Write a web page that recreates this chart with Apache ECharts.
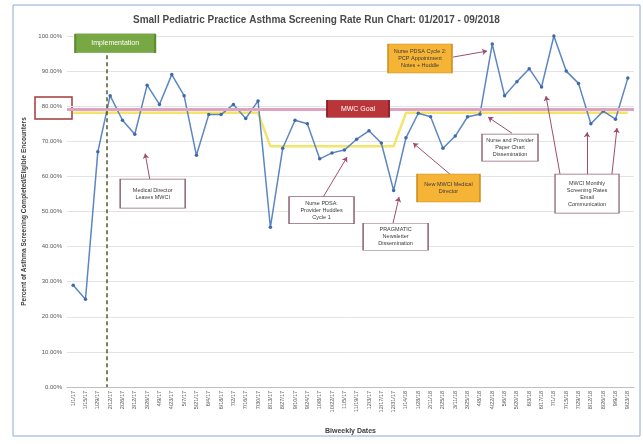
<!DOCTYPE html>
<html>
<head>
<meta charset="utf-8">
<script src="https://cdn.jsdelivr.net/npm/echarts@6/dist/echarts.min.js"></script>
<style>
  html, body { margin: 0; padding: 0; background: #fff; }
  #chart { width: 643px; height: 444px; }
</style>
</head>
<body>
<div id="chart"></div>
<script>
// biweekly dates (x categories)
var dates = [
  "1/1/17", "1/15/17", "1/29/17", "2/12/17", "2/26/17", "3/12/17", "3/26/17", "4/9/17",
  "4/23/17", "5/7/17", "5/21/17", "6/4/17", "6/18/17", "7/2/17", "7/16/17", "7/30/17",
  "8/13/17", "8/27/17", "9/10/17", "9/24/17", "10/8/17", "10/22/17", "11/5/17", "11/19/17",
  "12/3/17", "12/17/17", "12/31/17", "1/14/18", "1/28/18", "2/11/18", "2/25/18", "3/11/18",
  "3/25/18", "4/8/18", "4/22/18", "5/6/18", "5/20/18", "6/3/18", "6/17/18", "7/1/18",
  "7/15/18", "7/29/18", "8/12/18", "8/26/18", "9/9/18", "9/23/18"
];
// screening rate (%)
var screeningRate = [
  29, 25, 67, 83, 76, 72, 86, 80.5, 89, 83, 66, 77.6, 77.6, 80.5, 76.5, 81.5,
  45.5, 68, 76, 75, 65, 66.7, 67.5, 70.6, 73, 69.5, 56,
  71, 78, 77, 68, 71.5, 77, 77.7, 97.7, 83, 87, 90.7, 85.5, 100, 90, 86.5, 75, 78.6, 76.3, 88
];
// run chart median (yellow step line)
var medianLine = [
  78.1, 78.1, 78.1, 78.1, 78.1, 78.1, 78.1, 78.1, 78.1, 78.1, 78.1, 78.1, 78.1, 78.1, 78.1, 78.1,
  68.6, 68.6, 68.6, 68.6, 68.6, 68.6, 68.6, 68.6, 68.6, 68.6, 68.6,
  78.1, 78.1, 78.1, 78.1, 78.1, 78.1, 78.1, 78.1, 78.1, 78.1, 78.1, 78.1, 78.1, 78.1, 78.1, 78.1, 78.1, 78.1, 78.1
];
var goal = 79;
var yTicks = [0, 10, 20, 30, 40, 50, 60, 70, 80, 90, 100];

var arrowColor = "#9e4d6c";

function noteBox(text, x, y, w, h, orange) {
  return {
    coord: [x, y],
    symbol: "rect",
    symbolSize: [w, h],
    itemStyle: {
      color: orange ? "#f5b436" : "#ffffff",
      borderColor: orange ? "#c98b1e" : "#8e6477",
      borderWidth: 1
    },
    label: {
      show: true,
      position: "inside",
      formatter: text,
      fontSize: 5.5,
      lineHeight: 7,
      color: "#3a3a3a",
      fontFamily: "Liberation Sans"
    }
  };
}

function arrow(x1, y1, x2, y2) {
  return [{ coord: [x1, y1] }, { coord: [x2, y2] }];
}

var chart = echarts.init(document.getElementById("chart"));
chart.setOption({
  animation: false,
  title: {
    text: "Small Pediatric Practice Asthma Screening Rate Run Chart: 01/2017 - 09/2018",
    left: 128,
    top: 10,
    textStyle: { fontSize: 10, fontWeight: "bold", color: "#4a4a4a", fontFamily: "Liberation Sans" }
  },
  grid: { left: 67, right: 9, top: 36, bottom: 57 },
  xAxis: [
    {
      type: "category",
      data: dates,
      boundaryGap: true,
      name: "Biweekly Dates",
      nameLocation: "middle",
      nameGap: 41,
      nameTextStyle: { fontSize: 7, fontWeight: "bold", color: "#404040" },
      axisLine: { lineStyle: { color: "#bfbfbf" } },
      axisTick: { show: false },
      axisLabel: { rotate: 90, fontSize: 5.5, color: "#595959", margin: 4, interval: 0 }
    },
    { type: "value", min: -0.5, max: 45.5, show: false }
  ],
  yAxis: {
    type: "value",
    min: 0,
    max: 100,
    interval: 10,
    name: "Percent of Asthma Screening Completed/Eligible Encounters",
    nameLocation: "middle",
    nameGap: 38,
    nameTextStyle: { fontSize: 6.5, fontWeight: "bold", color: "#404040" },
    axisLine: { show: false },
    axisTick: { show: false },
    splitLine: { lineStyle: { color: "#e3e3e3" } },
    axisLabel: {
      fontSize: 6,
      color: "#595959",
      margin: 5,
      formatter: function (v) { return yTicks.indexOf(v) >= 0 ? v.toFixed(2) + "%" : ""; }
    }
  },
  series: [
    {
      name: "Median",
      type: "line",
      data: medianLine,
      symbol: "none",
      lineStyle: { color: "#f3e46a", width: 2.5 },
      z: 2,
      markLine: {
        silent: true,
        symbol: "none",
        label: { show: false },
        lineStyle: { color: "#dca3c3", width: 3, type: "solid" },
        data: [{ yAxis: goal }]
      }
    },
    {
      name: "Screening Rate",
      type: "line",
      data: screeningRate,
      symbol: "circle",
      symbolSize: 3.5,
      lineStyle: { color: "#5b86c2", width: 1.5 },
      itemStyle: { color: "#3e6aa8" },
      z: 4
    },
    {
      name: "notes",
      type: "line",
      xAxisIndex: 1,
      data: [],
      z: 6,
      markLine: {
        silent: true,
        symbol: ["none", "arrow"],
        symbolSize: 5,
        label: { show: false },
        lineStyle: { color: arrowColor, width: 1, type: "solid" },
        data: [
          arrow(6.37, 56.2, 5.84, 66.5),
          arrow(20.28, 54.1, 22.22, 65.5),
          arrow(25.95, 46.7, 26.44, 54.1),
          arrow(30.58, 60.6, 27.58, 69.5),
          arrow(30.82, 94.0, 33.58, 95.7),
          arrow(35.6, 72.3, 33.66, 76.9),
          arrow(39.5, 60.6, 38.36, 82.9),
          arrow(41.69, 60.6, 41.69, 72.6),
          arrow(43.71, 60.6, 44.12, 73.8),
          [
            { coord: [2.76, 94.5], symbol: "none", lineStyle: { color: "#4f5a2a", width: 1.5, type: [4, 3] } },
            { coord: [2.76, 0], symbol: "none" }
          ]
        ]
      },
      markPoint: {
        silent: true,
        data: [
          noteBox("Medical Director\nLeaves MWCI", 6.45, 55.1, 65, 29, false),
          noteBox("Nurse PDSA:\nProvider Huddles\nCycle 1", 20.15, 50.4, 65, 27, false),
          noteBox("PRAGMATIC\nNewsletter\nDissemination", 26.16, 42.8, 65, 27, false),
          noteBox("New MWCI Medical\nDirector", 30.45, 56.7, 63, 28, true),
          noteBox("Nurse PDSA Cycle 2:\nPCP Appointment\nNotes + Huddle", 28.14, 93.6, 64, 29, true),
          noteBox("Nurse and Provider\nPaper Chart\nDissemination", 35.44, 68.2, 56, 27, false),
          noteBox("MWCI Monthly\nScreening Rates\nEmail\nCommunication", 41.69, 55.1, 64, 39, false),
          {
            coord: [23.11, 79.3],
            symbol: "rect",
            symbolSize: [62, 17],
            itemStyle: { color: "#b9353a", borderColor: "#8f2227", borderWidth: 1 },
            label: { show: true, position: "inside", formatter: "MWC Goal", fontSize: 7, color: "#ffffff" }
          },
          {
            coord: [3.41, 97.9],
            symbol: "rect",
            symbolSize: [80, 19],
            itemStyle: { color: "#77a843", borderColor: "#5e8a31", borderWidth: 1 },
            label: { show: true, position: "inside", formatter: "Implementation", fontSize: 7, color: "#ffffff" }
          }
        ]
      }
    }
  ],
  graphic: [
    {
      type: "rect",
      shape: { x: 13, y: 5, width: 627, height: 431 },
      style: { fill: "none", stroke: "#8eaad6", lineWidth: 1 },
      silent: true
    },
    {
      type: "rect",
      shape: { x: 35, y: 97, width: 37, height: 22 },
      style: { fill: "none", stroke: "#a33a3a", lineWidth: 1.5 },
      silent: true
    }
  ]
});
</script>
</body>
</html>
